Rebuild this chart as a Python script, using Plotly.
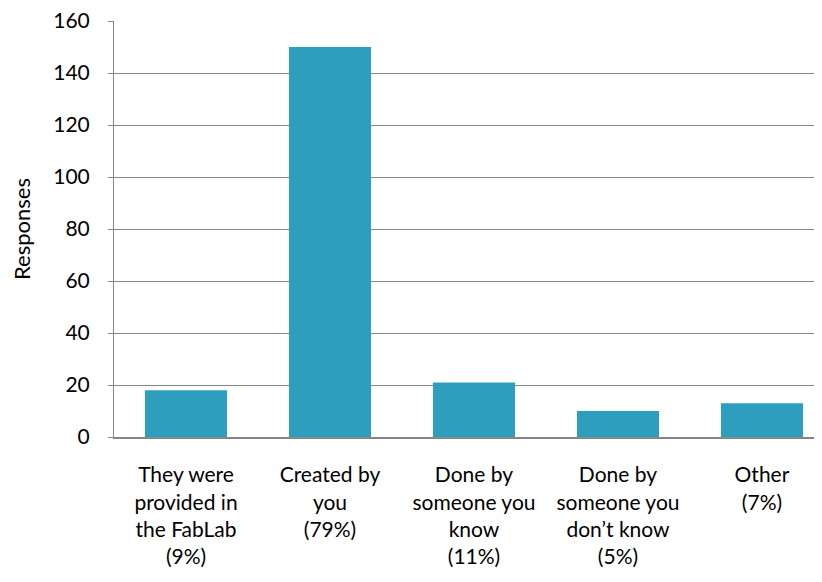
import plotly.graph_objects as go

categories = [
    "They were<br>provided in<br>the FabLab<br>(9%)",
    "Created by<br>you<br>(79%)",
    "Done by<br>someone you<br>know<br>(11%)",
    "Done by<br>someone you<br>don’t know<br>(5%)",
    "Other<br>(7%)",
]
responses = [18, 150, 21, 10, 13]
y_ticks = [0, 20, 40, 60, 80, 100, 120, 140, 160]

FONT = "Lato"

fig = go.Figure(
    go.Bar(
        x=categories,
        y=responses,
        width=0.57,
        marker=dict(color="#2E9EBE", line=dict(width=0)),
    )
)

fig.update_layout(
    width=822,
    height=582,
    margin=dict(l=106, r=8, t=13, b=153, autoexpand=False),
    paper_bgcolor="white",
    plot_bgcolor="white",
    showlegend=False,
    font=dict(family=FONT, size=21, color="#000000"),
)

fig.update_xaxes(
    range=[-0.5, 4.417],
    automargin=False,
    showline=True,
    linecolor="#868686",
    linewidth=2,
    ticks="",
    tickfont=dict(family=FONT, size=21, color="#000000"),
    ticklabelstandoff=18,
    ticklabeloverflow="allow",
    showgrid=False,
)

fig.update_yaxes(
    range=[0, 160],
    automargin=False,
    tickvals=y_ticks,
    showline=True,
    linecolor="#868686",
    linewidth=1,
    showgrid=True,
    gridcolor="#868686",
    gridwidth=1,
    ticks="outside",
    ticklen=5,
    tickcolor="#868686",
    tickfont=dict(family=FONT, size=21, color="#000000"),
    ticklabelstandoff=14,
    ticklabeloverflow="allow",
    zeroline=False,
    title=dict(text="Responses", font=dict(family=FONT, size=22, color="#000000"), standoff=18),
)

fig.write_html("out.html")
